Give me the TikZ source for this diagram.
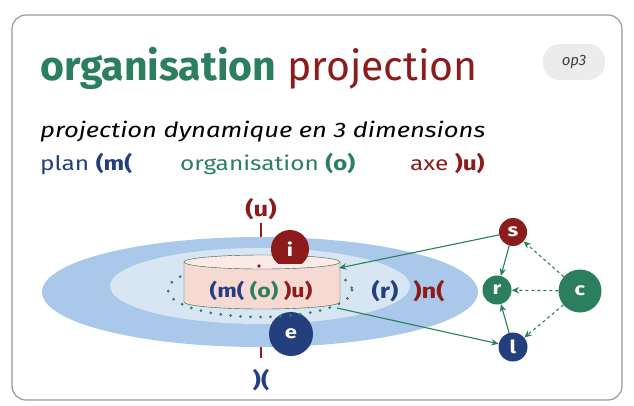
\documentclass[tikz,border=0pt]{standalone}
\usepackage{fontspec}
\setmainfont{Fira Sans}
\newfontfamily\wideface{Fira Sans}[FakeStretch=1.22]
\usetikzlibrary{arrows.meta}

\definecolor{orgGreen}{HTML}{2B7F5E}
\definecolor{axeRed}{HTML}{8C1C1C}
\definecolor{planBlue}{HTML}{233F7E}
\definecolor{planOuter}{HTML}{A9C8EA}
\definecolor{planInner}{HTML}{D8E5F3}
\definecolor{cylSide}{HTML}{F6D9D3}
\definecolor{cylTop}{HTML}{FBEAE6}
\definecolor{badgeGray}{HTML}{ECECEC}

\begin{document}
\begin{tikzpicture}[x=1pt, y=-1pt, >={Stealth[length=7.5pt, width=6.5pt]},
    pt/.style={circle, inner sep=0pt, text=white, font=\wideface\bfseries\fontsize{18}{18}\selectfont},
    flow/.style={->, orgGreen, line width=1.1pt},
    lbl/.style={font=\wideface\bfseries\fontsize{21}{21}\selectfont, inner sep=1pt}]
    \useasboundingbox (0,0) rectangle (634,405);
    \draw[gray!80, line width=1.2pt, rounded corners=14pt, fill=white] (12,15) rectangle (622,400);

    % en-tete
    \node[anchor=base west, inner sep=0pt, font=\fontsize{41}{41}\selectfont] (title) at (40,80)
        {\textcolor{orgGreen}{\bfseries organisation} \textcolor{axeRed}{projection}};
    \node[fill=badgeGray, rounded corners=17pt, minimum width=62pt, minimum height=36pt,
        text=black!75, font=\itshape\fontsize{15}{15}\selectfont] (tag) at (574,62) {op3};
    \node[anchor=base west, inner sep=0pt, font=\wideface\itshape\fontsize{21}{21}\selectfont] (sub) at (40,137)
        {projection dynamique en 3 dimensions};
    \node[anchor=base west, inner sep=0pt, planBlue, font=\wideface\fontsize{20}{20}\selectfont] (plan) at (40,170)
        {plan \textbf{(m(}};
    \node[anchor=base west, inner sep=0pt, orgGreen, font=\wideface\fontsize{20}{20}\selectfont] (orga) at (180,170)
        {organisation \textbf{(o)}};
    \node[anchor=base west, inner sep=0pt, axeRed, font=\wideface\fontsize{20}{20}\selectfont] (axe) at (410,170)
        {axe \textbf{)u)}};

    % axe vertical
    \node[lbl, axeRed] (axeU) at (261,209) {(u)};
    \node[lbl, planBlue] (axeD) at (261,380) {)(};
    \draw[axeRed, line width=2pt, shorten <=2pt, shorten >=10pt] (axeU) -- (axeD);

    % plans
    \fill[planOuter] (260,292) ellipse [x radius=218, y radius=55];
    \fill[planInner] (260,286) ellipse [x radius=150, y radius=38];
    \node[lbl, planBlue] (rr) at (385,291) {(r)};
    \node[lbl, axeRed] (nn) at (429,291) {)n(};

    % cylindre
    \node[pt, fill=planBlue, minimum size=44pt] (e) at (291,334) {e};
    \draw[orgGreen, line width=3pt, line cap=round, dash pattern=on 0pt off 10pt]
        (260,290) ellipse [x radius=92, y radius=27];
    \draw[orgGreen!80!black, fill=cylSide, thin] (184,262) -- (184,302)
        arc[start angle=180, end angle=0, x radius=78, y radius=7] -- (340,262);
    \draw[orgGreen!80!black, fill=cylTop, thin] (262,262) ellipse [x radius=78, y radius=7];
    \begin{scope}
        \clip (250,200) rectangle (330,263);
        \node[pt, fill=axeRed, minimum size=38pt] (i) at (290,249) {i};
    \end{scope}
    \fill[axeRed] (259,266) circle (1.8pt);
    \node[lbl, font=\wideface\bfseries\fontsize{19}{19}\selectfont] (core) at (261,291)
        {\textcolor{planBlue}{(m(} \textcolor{orgGreen}{(o)} \textcolor{axeRed}{)u)}};
    \coordinate (cylTR) at (339,268);
    \coordinate (cylBR) at (337,308);

    % graphe
    \node[pt, fill=axeRed, minimum size=28pt] (s) at (513,232) {s};
    \node[pt, fill=orgGreen, minimum size=29pt] (r) at (497,290) {r};
    \node[pt, fill=orgGreen, minimum size=43pt] (c) at (580,291) {c};
    \node[pt, fill=planBlue, minimum size=29pt] (l) at (513,347) {l};

    \draw[flow] (s) -- (cylTR);
    \draw[flow] (cylBR) -- (l);
    \draw[flow] (s) -- (r);
    \draw[flow] (l) -- (r);
    \draw[flow, dashed] (c) -- (s);
    \draw[flow, dashed] (c) -- (r);
    \draw[flow, dashed] (c) -- (l);
\end{tikzpicture}
\end{document}
